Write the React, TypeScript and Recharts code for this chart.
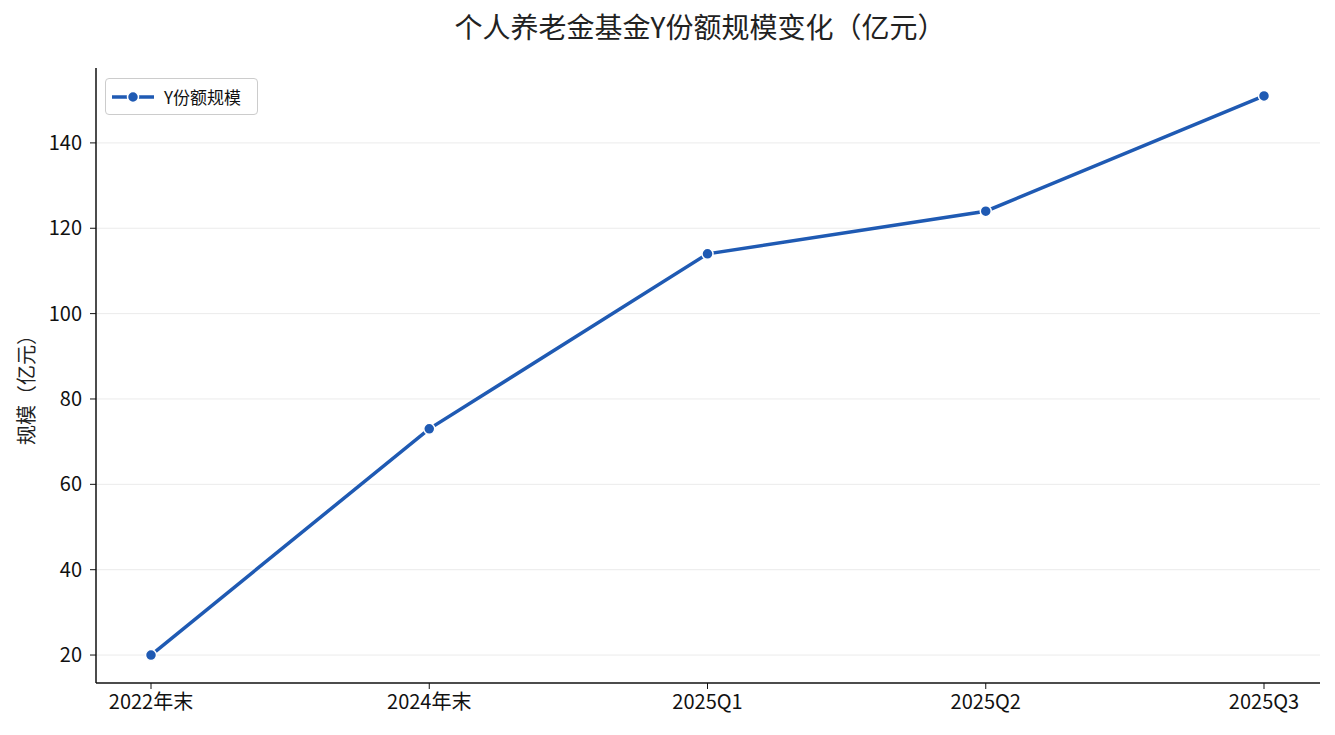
import { LineChart, Line, XAxis, YAxis, CartesianGrid } from "recharts";

const periods = ["2022年末", "2024年末", "2025Q1", "2025Q2", "2025Q3"];
const yShareSize = [20, 73, 114, 124, 151];
const yTicks = [20, 40, 60, 80, 100, 120, 140];

const LINE_COLOR = "#1f5ab3";
const FONT = "'Noto Sans CJK SC', 'Noto Sans', sans-serif";

const data = periods.map((p, i) => ({ period: p, value: yShareSize[i] }));

function LegendBox() {
  return (
    <div
      style={{
        position: "absolute",
        left: 105,
        top: 78,
        boxSizing: "border-box",
        display: "flex",
        alignItems: "center",
        gap: 10,
        padding: "0 6px",
        height: 37,
        width: 153,
        border: "1px solid #cccccc",
        borderRadius: 4,
        background: "#fff",
        fontFamily: FONT,
        fontSize: 17,
        color: "#111",
      }}
    >
      <svg width={42} height={14}>
        <line x1={0} y1={7} x2={42} y2={7} stroke={LINE_COLOR} strokeWidth={3.5} />
        <circle cx={21} cy={7} r={5.5} fill={LINE_COLOR} stroke="#fff" strokeWidth={1.5} />
      </svg>
      <span>Y份额规模</span>
    </div>
  );
}

export default function App() {
  return (
    <div style={{ position: "absolute", left: 0, top: 0, width: 1335, height: 735, background: "#fff" }}>
      <div
        style={{
          position: "absolute",
          top: 6,
          left: 0,
          width: 1400,
          textAlign: "center",
          fontFamily: FONT,
          fontSize: 28,
          color: "#222",
        }}
      >
        个人养老金基金Y份额规模变化（亿元）
      </div>
      <div
        style={{
          position: "absolute",
          left: 25,
          top: 385,
          transform: "translate(-50%, -50%) rotate(-90deg)",
          whiteSpace: "nowrap",
          fontFamily: FONT,
          fontSize: 20,
          color: "#222",
        }}
      >
        规模（亿元）
      </div>
      <LineChart
        width={1335}
        height={735}
        data={data}
        margin={{ top: 68, right: 15, left: 0, bottom: 0 }}
        style={{ fontFamily: FONT }}
      >
        <CartesianGrid vertical={false} horizontalValues={yTicks} stroke="#ebebeb" strokeWidth={1} />
        <XAxis
          dataKey="period"
          height={52}
          padding={{ left: 55, right: 56 }}
          axisLine={{ stroke: "#111", strokeWidth: 1.5 }}
          tickLine={{ stroke: "#111" }}
          tickSize={6}
          tick={{ fill: "#111", fontSize: 20 }}
          tickMargin={6}
        />
        <YAxis
          width={96}
          domain={[13.45, 157.55]}
          ticks={yTicks}
          allowDataOverflow
          axisLine={{ stroke: "#111", strokeWidth: 1.5 }}
          tickLine={{ stroke: "#111" }}
          tickSize={6}
          tick={{ fill: "#111", fontSize: 20 }}
          tickMargin={8}
        />
        <Line
          type="linear"
          dataKey="value"
          name="Y份额规模"
          stroke={LINE_COLOR}
          strokeWidth={3.5}
          dot={{ r: 5.5, fill: LINE_COLOR, stroke: "#fff", strokeWidth: 1.5 }}
          activeDot={false}
          isAnimationActive={false}
        />
      </LineChart>
      <LegendBox />
    </div>
  );
}
